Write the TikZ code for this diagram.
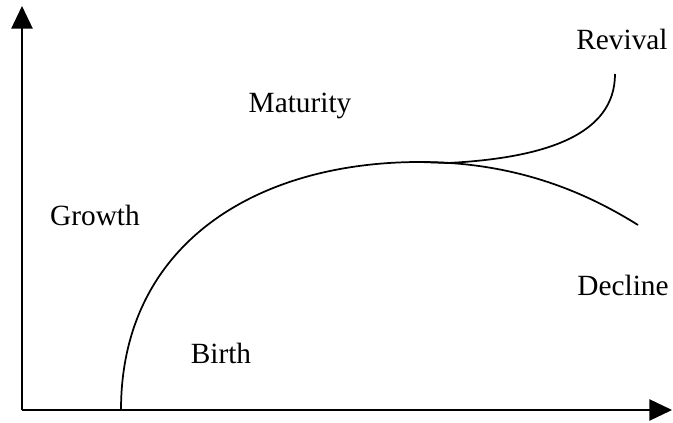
\documentclass[tikz,border=0pt]{standalone}
\usepackage{fontspec}
\setmainfont{Liberation Serif}
\usetikzlibrary{arrows.meta}

\begin{document}
\begin{tikzpicture}[
      x=0.75pt, y=-0.75pt,
      axis/.style={line width=1.1pt, -{Triangle[length=17pt,width=16pt]}},
      stage/.style={line width=1.3pt},
      phase/.style={font=\fontsize{22}{26}\selectfont, inner sep=0pt}
    ]
    \useasboundingbox (0,0) rectangle (673,423);

    % axes
    \coordinate (origin) at (22,410);
    \coordinate (ytip)   at (22,6);
    \coordinate (xtip)   at (672,410);
    \draw[axis] (origin) -- (ytip);
    \draw[axis] (origin) -- (xtip);

    % life cycle curve
    \coordinate (start)   at (121,410);
    \coordinate (peak)    at (420,162);
    \coordinate (fork)    at (448,163);
    \coordinate (revive)  at (615,74);
    \coordinate (decline) at (638,225);
    \draw[stage] (start) .. controls (121,245) and (255,162) .. (peak);
    \draw[stage] (peak) -- (fork);
    \draw[stage] (fork) .. controls (545,158) and (615,135) .. (revive);
    \draw[stage] (peak) .. controls (520,162) and (590,195) .. (decline);

    % labels
    \node[phase] (revival)  at (622,39)  {Revival};
    \node[phase] (maturity) at (300,106) {Maturity};
    \node[phase] (growth)   at (95,215)  {Growth};
    \node[phase] (declinel) at (623,285) {Decline};
    \node[phase] (birth)    at (221,353) {Birth};
\end{tikzpicture}
\end{document}
